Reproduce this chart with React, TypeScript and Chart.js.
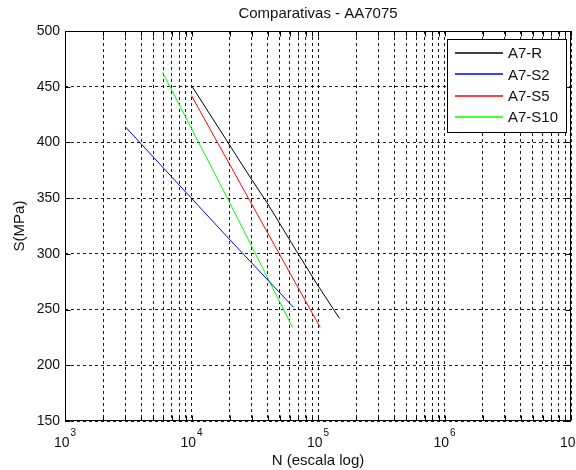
import React, { useEffect, useRef } from "react";
import { Chart, registerables } from "chart.js";

Chart.register(...registerables);

// ---- data ----
const seriesLabels = ["A7-R", "A7-S2", "A7-S5", "A7-S10"];
const seriesColors = ["#000000", "#0000ff", "#ff0000", "#00ff00"];

const rN = [1.0e4, 1.94e4, 2.9e4, 3.95e4, 5.0e4, 6.8e4, 9.8e4, 1.48e5];
const rS = [451, 400, 369, 346, 327, 302, 273, 242];

const s2N = [3.0e3, 1.96e4, 6.4e4];
const s2S = [414, 314, 252];

const s5N = [1.0e4, 2.88e4, 1.04e5];
const s5S = [442, 348, 234];

const s10N = [5.9e3, 1.96e4, 6.3e4];
const s10S = [463, 348, 234];

const xMajor = [1e3, 1e4, 1e5, 1e6, 1e7];
const xExponents = ["3", "4", "5", "6", "7"];
const xMinorMult = [2, 3, 4, 5, 6, 7, 8, 9];
const yTicks = [150, 200, 250, 300, 350, 400, 450, 500];

const titleText = "Comparativas - AA7075";
const xTitle = "N (escala log)";
const yTitle = "S(MPa)";

const FONT = '"Liberation Sans", Arial, Helvetica, sans-serif';
const GRID = "#1a1a1a";
const TEXT = "#111";

function buildXTicks(): number[] {
  const t: number[] = [];
  for (let i = 0; i < xMajor.length; i++) {
    t.push(xMajor[i]);
    if (i < xMajor.length - 1) {
      for (const m of xMinorMult) t.push(m * xMajor[i]);
    }
  }
  return t;
}
const xTickValues = buildXTicks();

const pts = (n: number[], s: number[]) => n.map((v, i) => ({ x: v, y: s[i] }));

const matlabPlugin = {
  id: "matlabDecor",
  afterDraw(chart: any) {
    const ctx: CanvasRenderingContext2D = chart.ctx;
    const { left, right, top, bottom } = chart.chartArea;
    const xs = chart.scales.x;
    const ys = chart.scales.y;
    const L = Math.round(left) + 0.5;
    const R = Math.round(right) - 0.5;
    const T = Math.round(top) + 0.5;
    const B = Math.round(bottom) - 0.5;
    ctx.save();
    ctx.strokeStyle = "#000";
    ctx.lineWidth = 1;
    ctx.setLineDash([]);
    // ticks
    ctx.beginPath();
    for (const v of xTickValues) {
      const px = Math.round(xs.getPixelForValue(v)) + 0.5;
      ctx.moveTo(px, B);
      ctx.lineTo(px, B - 5);
      ctx.moveTo(px, T);
      ctx.lineTo(px, T + 5);
    }
    for (const v of yTicks) {
      const py = Math.round(ys.getPixelForValue(v)) + 0.5;
      ctx.moveTo(L, py);
      ctx.lineTo(L + 5, py);
      ctx.moveTo(R, py);
      ctx.lineTo(R - 5, py);
    }
    ctx.stroke();
    // box
    ctx.strokeStyle = "#000";
    ctx.strokeRect(L, T, R - L, B - T);

    ctx.fillStyle = TEXT;
    // y tick labels
    ctx.font = `14px ${FONT}`;
    ctx.textAlign = "right";
    ctx.textBaseline = "middle";
    for (const v of yTicks) {
      const py = ys.getPixelForValue(v);
      ctx.fillText(String(v), left - 5, py);
    }
    // x tick labels 10^n
    for (let i = 0; i < xMajor.length; i++) {
      const px = xs.getPixelForValue(xMajor[i]);
      ctx.font = `14px ${FONT}`;
      const wb = ctx.measureText("10").width;
      ctx.font = `10px ${FONT}`;
      const we = ctx.measureText(xExponents[i]).width;
      const x0 = px - (wb + we + 1) / 2;
      ctx.textAlign = "left";
      ctx.textBaseline = "alphabetic";
      ctx.font = `14px ${FONT}`;
      ctx.fillText("10", x0, 447);
      ctx.font = `10px ${FONT}`;
      ctx.fillText(xExponents[i], x0 + wb + 1, 436);
    }
    // titles
    ctx.font = `15px ${FONT}`;
    ctx.textAlign = "center";
    ctx.textBaseline = "middle";
    const cx = (left + right) / 2;
    ctx.fillText(titleText, cx, 14);
    ctx.fillText(xTitle, cx, 461);
    ctx.save();
    ctx.translate(20, (top + bottom) / 2);
    ctx.rotate(-Math.PI / 2);
    ctx.fillText(yTitle, 0, 0);
    ctx.restore();

    // legend
    const lx = 447.5, ly = 39.5, lw = 119, lh = 93;
    ctx.fillStyle = "#fff";
    ctx.fillRect(lx, ly, lw, lh);
    ctx.strokeStyle = "#000";
    ctx.strokeRect(lx, ly, lw, lh);
    ctx.textAlign = "left";
    ctx.textBaseline = "middle";
    ctx.font = `15px ${FONT}`;
    chart.data.datasets.forEach((ds: any, i: number) => {
      const y = 53 + i * 21.4;
      const yy = Math.round(y);
      ctx.strokeStyle = seriesColors[i];
      ctx.lineWidth = 1.3;
      ctx.beginPath();
      ctx.moveTo(455, yy);
      ctx.lineTo(503, yy);
      ctx.stroke();
      ctx.fillStyle = TEXT;
      ctx.fillText(ds.label, 508, y + 1);
    });
    ctx.restore();
  },
};

export default function App() {
  const ref = useRef<HTMLCanvasElement | null>(null);
  useEffect(() => {
    document.body.style.margin = "0";
    const canvas = ref.current!;
    const seriesN = [rN, s2N, s5N, s10N];
    const seriesS = [rS, s2S, s5S, s10S];
    const chart = new Chart(canvas, {
      type: "line",
      data: {
        datasets: seriesLabels.map((label, i) => ({
          label,
          data: pts(seriesN[i], seriesS[i]),
          borderColor: seriesColors[i],
          backgroundColor: seriesColors[i],
          borderWidth: 1,
          pointRadius: 0,
          tension: 0,
          fill: false,
        })),
      },
      options: {
        responsive: false,
        animation: false,
        devicePixelRatio: 1,
        parsing: false as any,
        layout: { padding: { top: 31, right: 5, left: 0, bottom: 0 } },
        plugins: {
          legend: { display: false },
          title: { display: false },
          tooltip: { enabled: false },
        },
        scales: {
          x: {
            type: "logarithmic",
            min: 1e3,
            max: 1e7,
            afterBuildTicks: (s: any) => {
              s.ticks = xTickValues.map((v) => ({ value: v }));
            },
            afterFit: (s: any) => {
              s.height = 49;
            },
            ticks: { display: false },
            grid: { color: GRID, lineWidth: 1, drawTicks: false },
            border: { display: false, dash: [3, 3] },
          },
          y: {
            type: "linear",
            min: 150,
            max: 500,
            afterBuildTicks: (s: any) => {
              s.ticks = yTicks.map((v) => ({ value: v }));
            },
            afterFit: (s: any) => {
              s.width = 65;
            },
            ticks: { display: false },
            grid: { color: GRID, lineWidth: 1, drawTicks: false },
            border: { display: false, dash: [3, 3] },
          },
        },
      },
      plugins: [matlabPlugin],
    } as any);
    return () => chart.destroy();
  }, []);
  return (
    <div style={{ width: 576, height: 470, background: "#fff" }}>
      <canvas ref={ref} width={576} height={470} style={{ display: "block" }} />
    </div>
  );
}
